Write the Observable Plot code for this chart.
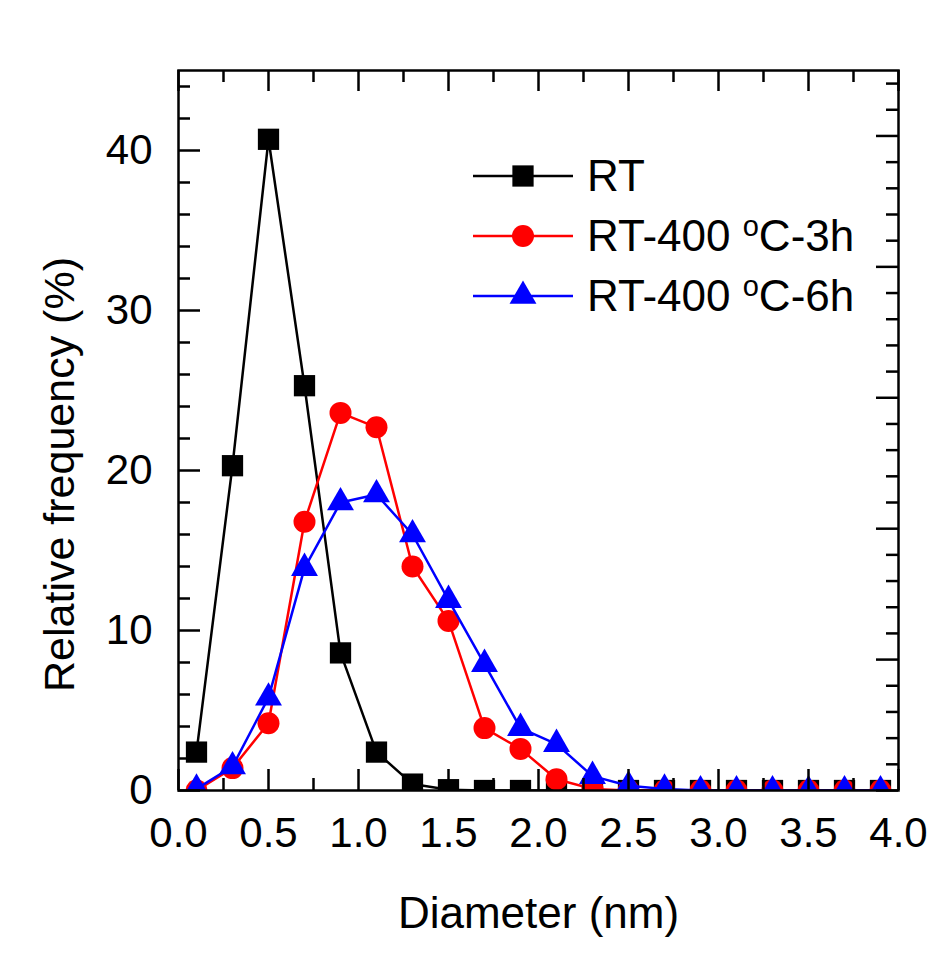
<!DOCTYPE html>
<html><head><meta charset="utf-8">
<script src="https://cdn.jsdelivr.net/npm/d3@7"></script>
<script src="https://cdn.jsdelivr.net/npm/@observablehq/plot@0.6"></script>
<style>
body{margin:0;background:#fff;}
#chart{width:951px;height:955px;}
</style>
</head><body><div id="chart"></div>
<script>
// ---- data ----
const diameters = [0.1,0.3,0.5,0.7,0.9,1.1,1.3,1.5,1.7,1.9,2.1,2.3,2.5,2.7,2.9,3.1,3.3,3.5,3.7,3.9];
const rtValues   = [2.4,20.3,40.7,25.3,8.6,2.4,0.4,0.05,0,0,0,0,0,0,0,0,0,0,0,0];
const rt3hValues = [0,1.4,4.2,16.8,23.6,22.7,14.0,10.6,3.9,2.6,0.7,0.1,0,0,0,0,0,0,0,0];
const rt6hValues = [0.1,1.5,5.8,13.9,18.0,18.5,16.0,11.9,7.9,3.9,2.9,0.9,0.3,0.1,0,0,0,0,0,0];
const seriesNames = ["RT", "RT-400 °C-3h", "RT-400 °C-6h"];
const seriesColors = ["#000000", "#ff0000", "#0000ff"];
const seriesSymbols = ["square", "circle", "triangle"];
const xTickLabels = [0,0.5,1,1.5,2,2.5,3,3.5,4];
const xMinorTicks = [0.25,0.75,1.25,1.75,2.25,2.75,3.25,3.75];
const yTickLabels = [0,10,20,30,40];
const yMinorTicks = [2,4,6,8,12,14,16,18,22,24,26,28,32,34,36,38,42,44];
// right mirror axis in the picture uses a 0–55 scale
const rightAxisMax = 55;
const rightMajor = [0,10,20,30,40,50];
const rightMinor = [2,4,6,8,12,14,16,18,22,24,26,28,32,34,36,38,42,44,46,48,52,54];
const xTitle = "Diameter (nm)";
const yTitle = "Relative frequency (%)";

// ---- build ----
const seriesValues = [rtValues, rt3hValues, rt6hValues];
const yMax = 45;
const toLeft = v => v * yMax / rightAxisMax;
const W = 951, H = 955, mL = 178, mR = 53, mT = 70, mB = 165;
const fw = W - mL - mR, fh = H - mT - mB;
const font = "Liberation Sans, Arial, Helvetica, sans-serif";
const sizes = [12, 11, 10];

const marks = [];
seriesValues.forEach((vals, k) => {
  const rows = diameters.map((d, i) => ({d, v: vals[i]}));
  marks.push(Plot.line(rows, {x: "d", y: "v", stroke: seriesColors[k], strokeWidth: 2.5, clip: true}));
  marks.push(Plot.dot(rows, {x: "d", y: "v", symbol: () => seriesSymbols[k], r: sizes[k], fill: seriesColors[k], stroke: "none", clip: true}));
});

const tk = {stroke: "black", strokeWidth: 2.5};
marks.push(
  Plot.tickX(xTickLabels, {x: d => d, insetTop: fh - 21, ...tk}),
  Plot.tickX(xMinorTicks, {x: d => d, insetTop: fh - 12, ...tk}),
  Plot.tickX(xTickLabels, {x: d => d, insetBottom: fh - 21, ...tk}),
  Plot.tickX(xMinorTicks, {x: d => d, insetBottom: fh - 12, ...tk}),
  Plot.tickY(yTickLabels, {y: d => d, insetRight: fw - 22, ...tk}),
  Plot.tickY(yMinorTicks, {y: d => d, insetRight: fw - 12, ...tk}),
  Plot.tickY(rightMajor.map(toLeft), {y: d => d, insetLeft: fw - 22, ...tk}),
  Plot.tickY(rightMinor.map(toLeft), {y: d => d, insetLeft: fw - 12, ...tk}),
  Plot.frame({stroke: "black", strokeWidth: 2.5}),
  Plot.axisX({ticks: xTickLabels, anchor: "bottom", tickSize: 0, tickPadding: 27, fontSize: 42, tickFormat: d3.format(".1f"), label: null}),
  Plot.axisY({ticks: yTickLabels, anchor: "left", tickSize: 0, tickPadding: 26, fontSize: 42, tickFormat: d3.format("d"), label: null}),
  Plot.text([xTitle], {text: d => d, frameAnchor: "bottom", lineAnchor: "bottom", dy: 137, fontSize: 44, fill: "black"}),
  Plot.text([yTitle], {text: d => d, frameAnchor: "left", textAnchor: "middle", lineAnchor: "bottom", rotate: -90, dx: -105, dy: 44, fontSize: 43, fill: "black"})
);

const svg = Plot.plot({
  width: W, height: H,
  marginLeft: mL, marginRight: mR, marginTop: mT, marginBottom: mB,
  x: {domain: [0, 4]},
  y: {domain: [0, yMax]},
  style: {fontFamily: font, background: "white", color: "black"},
  marks
});

// ---- legend (inside the frame, top right) ----
const lg = d3.select(svg).append("g").attr("font-family", font).attr("text-anchor", "start");
const rowY = [176, 236, 296];
seriesNames.forEach((name, k) => {
  const g = lg.append("g").attr("transform", `translate(0,${rowY[k]})`);
  g.append("line").attr("x1", 473).attr("x2", 573).attr("y1", 0).attr("y2", 0)
    .attr("stroke", seriesColors[k]).attr("stroke-width", 2.5);
  const sym = {square: d3.symbolSquare, circle: d3.symbolCircle, triangle: d3.symbolTriangle}[seriesSymbols[k]];
  g.append("path").attr("transform", "translate(523,0)")
    .attr("d", d3.symbol(sym, Math.PI * sizes[k] * sizes[k])())
    .attr("fill", seriesColors[k]);
  const t = g.append("text").attr("x", 587).attr("y", 0).attr("dy", "0.35em")
    .attr("text-anchor", "start").attr("font-size", 44).attr("fill", "black");
  const parts = name.split("°");
  if (parts.length === 1) {
    t.text(name);
  } else {
    t.append("tspan").text(parts[0]);
    t.append("tspan").attr("font-size", 29).attr("dy", -15).text("o");
    t.append("tspan").attr("dy", 15).text(parts[1]);
  }
});

document.getElementById("chart").appendChild(svg);
</script>
</body></html>
